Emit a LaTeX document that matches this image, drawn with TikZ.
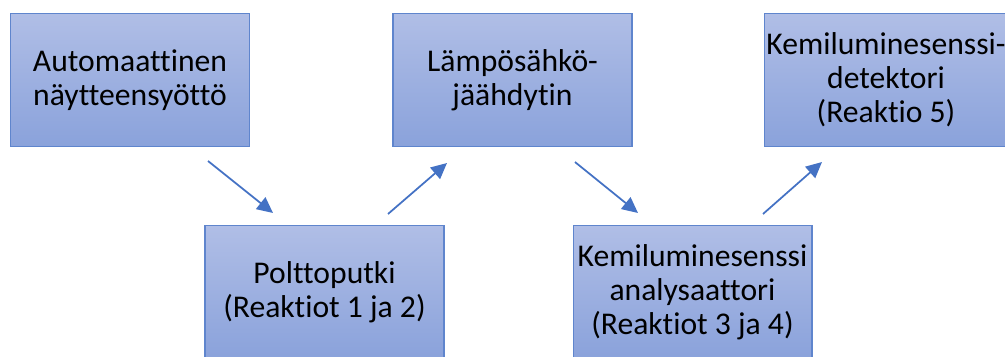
\documentclass[tikz,border=0pt]{standalone}
\usepackage{fontspec}
\setmainfont{Carlito}[Ligatures=NoCommon]
\usepackage{tikz}
\usetikzlibrary{positioning, calc, arrows.meta}

\definecolor{boxtop}{RGB}{176,190,230}
\definecolor{boxbot}{RGB}{138,162,219}
\definecolor{boxline}{RGB}{95,133,205}
\definecolor{flowcol}{RGB}{68,114,196}

\begin{document}
\begin{tikzpicture}[x=0.02cm, y=-0.02cm,
    box/.style={rectangle, draw=boxline, line width=0.6pt, top color=boxtop, bottom color=boxbot,
      minimum width=4.78cm, minimum height=2.66cm, inner xsep=1pt, align=center,
      font=\fontsize{18}{19.4}\selectfont},
    flow/.style={draw=flowcol, line width=1pt, -{Triangle[length=9pt, width=8.5pt]}}]
    \useasboundingbox (0,0) rectangle (1005,356);
    \clip (0,0) rectangle (1005,356);
    % top row
    \node[box] (auto) at (130,80) {Automaattinen\\näytteensyöttö};
    \node[box] (lampo) at (512.5,80) {Lämpösähkö-\\jäähdytin};
    \node[box] (detekt) at (886,80) {Kemiluminesenssi-\\detektori\\(Reaktio 5)};
    % bottom row
    \node[box] (poltto) at (324.5,292) {Polttoputki\\(Reaktiot 1 ja 2)};
    \node[box] (analys) at (692.5,292) {Kemiluminesenssi\\analysaattori\\(Reaktiot 3 ja 4)};
    % arrows
    \draw[flow] ([shift={(78,14)}]auto.south) -- ([shift={(-51.5,-12)}]poltto.north);
    \draw[flow] ([shift={(63.5,-11)}]poltto.north) -- ([shift={(-65.5,16)}]lampo.south);
    \draw[flow] ([shift={(62.5,15)}]lampo.south) -- ([shift={(-54.5,-12)}]analys.north);
    \draw[flow] ([shift={(70.5,-11)}]analys.north) -- ([shift={(-64,15)}]detekt.south);
  \end{tikzpicture}
\end{document}
